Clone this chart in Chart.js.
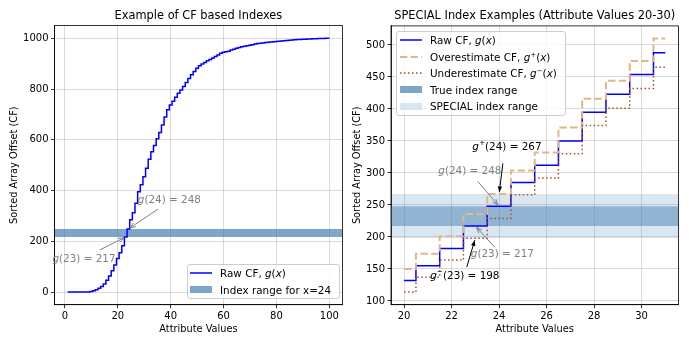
<!DOCTYPE html>
<html lang="en">
<head>
<meta charset="UTF-8">
<title>CF based Indexes</title>
<style>
  body { margin: 0; background: #fff; font-family: "DejaVu Sans", sans-serif; }
  .wrap { position: relative; width: 689px; height: 345px; }
  canvas { position: absolute; top: 0; }
  #leftChart { left: 0; }
  #rightChart { left: 345px; }
  .legend {
    position: absolute;
    background: rgba(255, 255, 255, 0.8);
    border: 1px solid #ccc;
    border-radius: 3px;
    font-size: 10.4px;
    color: #000;
  }
  .legend .row { display: flex; align-items: center; height: 16.5px; white-space: nowrap; }
  .legend .sw { width: 22px; height: 10px; margin-right: 8px; display: flex; align-items: center; }
  .legend .patch { width: 22px; height: 7px; }
  .legend sup { font-size: 7px; line-height: 0; }
  #leftLegend { left: 187px; top: 264px; width: 149px; padding-left: 2px; }
  #rightLegend { left: 396px; top: 31px; width: 165px; padding-left: 3px; }
</style>
</head>
<body>
<div class="wrap">
  <canvas id="leftChart" width="345" height="345"></canvas>
  <canvas id="rightChart" width="344" height="345"></canvas>

  <div class="legend" id="leftLegend">
    <div class="row"><span class="sw"><svg width="22" height="10"><line x1="0" y1="5" x2="22" y2="5" stroke="#0000ff" stroke-width="1.5"/></svg></span><span>Raw CF, <i>g</i>(<i>x</i>)</span></div>
    <div class="row"><span class="sw"><span class="patch" style="background: rgba(70,130,180,0.7)"></span></span><span>Index range for x=24</span></div>
  </div>

  <div class="legend" id="rightLegend">
    <div class="row"><span class="sw"><svg width="22" height="10"><line x1="0" y1="5" x2="22" y2="5" stroke="#0000ff" stroke-width="1.5"/></svg></span><span>Raw CF, <i>g</i>(<i>x</i>)</span></div>
    <div class="row"><span class="sw"><svg width="22" height="10"><line x1="0" y1="5" x2="22" y2="5" stroke="#deb887" stroke-width="2" stroke-dasharray="7.4 3.2"/></svg></span><span>Overestimate CF, <i>g</i><sup>+</sup>(<i>x</i>)</span></div>
    <div class="row"><span class="sw"><svg width="22" height="10"><line x1="0" y1="5" x2="22" y2="5" stroke="#a0522d" stroke-width="1.5" stroke-dasharray="1.5 2.5"/></svg></span><span>Underestimate CF, <i>g</i><sup>−</sup>(<i>x</i>)</span></div>
    <div class="row"><span class="sw"><span class="patch" style="background: rgba(70,130,180,0.7)"></span></span><span>True index range</span></div>
    <div class="row"><span class="sw"><span class="patch" style="background: rgba(70,130,180,0.2)"></span></span><span>SPECIAL index range</span></div>
  </div>
</div>

<script src="https://cdn.jsdelivr.net/npm/chart.js"></script>
<script>
// attribute values 1..100 and the raw cumulative frequency g(x)
const attrValues = [
  1, 2, 3, 4, 5, 6, 7, 8, 9, 10, 11, 12, 13, 14, 15, 16, 17, 18, 19, 20,
  21, 22, 23, 24, 25, 26, 27, 28, 29, 30, 31, 32, 33, 34, 35, 36, 37, 38, 39, 40,
  41, 42, 43, 44, 45, 46, 47, 48, 49, 50, 51, 52, 53, 54, 55, 56, 57, 58, 59, 60,
  61, 62, 63, 64, 65, 66, 67, 68, 69, 70, 71, 72, 73, 74, 75, 76, 77, 78, 79, 80,
  81, 82, 83, 84, 85, 86, 87, 88, 89, 90, 91, 92, 93, 94, 95, 96, 97, 98, 99, 100
];
const rawCF = [
  0, 0, 0, 0, 0, 0, 0, 0, 0, 2, 5, 9, 15, 22, 32, 46, 63, 84, 106, 132,
  155, 182, 217, 248, 285, 312, 350, 395, 423, 454, 488, 523, 553, 577, 604, 629, 658, 690, 718, 737,
  752, 768, 783, 796, 810, 826, 842, 856, 869, 882, 892, 899, 905, 911, 916, 922, 928, 934, 941, 945,
  947, 949, 954, 957, 961, 964, 967, 969, 971, 973, 975, 977, 979, 980, 981, 983, 984, 985, 986, 987,
  988, 989, 990, 991, 992, 993, 994, 995, 995, 996, 996, 997, 997, 998, 998, 999, 999, 999, 1000, 1000
];

// zoomed view, attribute values 20..31
const zoomX = [20, 21, 22, 23, 24, 25, 26, 27, 28, 29, 30, 31];
const zoomRaw = [132, 155, 182, 217, 248, 285, 312, 350, 395, 423, 454, 488];
const zoomOver = [150, 174, 201, 236, 267, 304, 332, 371, 416, 444, 475, 510];
const zoomUnder = [114, 137, 164, 198, 229, 266, 292, 330, 374, 401, 432, 465];

// index ranges
const trueRange = [217, 248];
const specialRange = [198, 267];

// tick labels
const leftXTicks = [0, 20, 40, 60, 80, 100];
const leftYTicks = [0, 200, 400, 600, 800, 1000];
const rightXTicks = [20, 22, 24, 26, 28, 30];
const rightYTicks = [100, 150, 200, 250, 300, 350, 400, 450, 500];

const FONT = 'DejaVu Sans';
const pts = (xs, ys) => xs.map((x, i) => ({ x: x, y: ys[i] }));

function drawArrow(ctx, x0, y0, x1, y1, color, filled) {
  const ang = Math.atan2(y1 - y0, x1 - x0);
  // shrink a little at the head like matplotlib does
  x1 -= 2 * Math.cos(ang); y1 -= 2 * Math.sin(ang);
  ctx.strokeStyle = color; ctx.fillStyle = color; ctx.lineWidth = 1;
  ctx.beginPath(); ctx.moveTo(x0, y0); ctx.lineTo(x1, y1); ctx.stroke();
  const L = 6, w = 0.38;
  ctx.beginPath();
  ctx.moveTo(x1 - L * Math.cos(ang - w), y1 - L * Math.sin(ang - w));
  ctx.lineTo(x1, y1);
  ctx.lineTo(x1 - L * Math.cos(ang + w), y1 - L * Math.sin(ang + w));
  if (filled) { ctx.closePath(); ctx.fill(); } else { ctx.stroke(); }
}

function drawMath(ctx, parts, x, y, color) {
  const fonts = {
    n: '10.4px "' + FONT + '"',
    i: 'italic 10.4px "' + FONT + '"',
    s: '7.3px "' + FONT + '"'
  };
  let w = 0;
  parts.forEach(p => { ctx.font = fonts[p[1]]; w += ctx.measureText(p[0]).width; });
  let cx = x - w / 2;
  ctx.fillStyle = color; ctx.textAlign = 'left'; ctx.textBaseline = 'middle';
  parts.forEach(p => {
    ctx.font = fonts[p[1]];
    ctx.fillText(p[0], cx, p[1] === 's' ? y - 4 : y);
    cx += ctx.measureText(p[0]).width;
  });
}

// frame, title and annotations
const decorations = {
  id: 'decorations',
  afterDatasetsDraw(chart, args, opts) {
    const { ctx, chartArea: a, scales: { x, y } } = chart;
    ctx.save();
    ctx.strokeStyle = '#000'; ctx.lineWidth = 0.8;
    ctx.strokeRect(a.left, a.top, a.right - a.left, a.bottom - a.top);

    ctx.fillStyle = '#000';
    ctx.font = '11.4px "' + FONT + '"';
    ctx.textAlign = 'center'; ctx.textBaseline = 'middle';
    ctx.fillText(opts.title, (a.left + a.right) / 2, a.top - 10);

    (opts.notes || []).forEach(n => {
      drawArrow(ctx, x.getPixelForValue(n.from[0]), y.getPixelForValue(n.from[1]),
        x.getPixelForValue(n.to[0]), y.getPixelForValue(n.to[1]), n.color, n.filled);
      drawMath(ctx, n.parts, x.getPixelForValue(n.at[0]), y.getPixelForValue(n.at[1]), n.color);
    });
    ctx.restore();
  }
};

function axis(min, max, ticks, title, fit, titlePad) {
  return {
    type: 'linear', min: min, max: max,
    afterBuildTicks: ax => { ax.ticks = ticks.map(v => ({ value: v })); },
    afterFit: fit,
    grid: { color: 'rgba(176,176,176,0.6)', lineWidth: 0.8, tickColor: '#000', tickLength: 3.5, tickWidth: 0.8 },
    border: { color: '#000', width: 0.8 },
    ticks: { color: '#000', font: { family: FONT, size: 10 }, padding: 2.5, maxRotation: 0, autoSkip: false,
             callback: v => String(v) },
    title: { display: true, text: title, color: '#000', font: { family: FONT, size: 9.8 }, padding: titlePad }
  };
}

function band(x0, x1, range, color, order) {
  return {
    data: [{ x: x0, y: range[1] }, { x: x1, y: range[1] }],
    fill: { value: range[0] }, backgroundColor: color,
    borderColor: 'transparent', borderWidth: 0, pointRadius: 0, order: order
  };
}

const baseOptions = {
  responsive: false, animation: false,
  plugins: { legend: { display: false }, tooltip: { enabled: false } }
};

// left chart: full CF
new Chart(document.getElementById('leftChart'), {
  type: 'line',
  data: {
    datasets: [
      { data: pts(attrValues, rawCF), stepped: 'middle', borderColor: '#0000ff', borderWidth: 1.5, pointRadius: 0, fill: false, order: 1 },
      band(-3.95, 104.95, trueRange, 'rgba(70,130,180,0.7)', 5)
    ]
  },
  options: Object.assign({}, baseOptions, {
    layout: { padding: { left: 0, right: 2.6, top: 25.6, bottom: 0 } },
    scales: {
      x: axis(-3.95, 104.95, leftXTicks, 'Attribute Values', ax => { ax.height = 40.3; }, { top: 0, bottom: 10 }),
      y: axis(-50, 1050, leftYTicks, 'Sorted Array Offset (CF)', ax => { ax.width = 54.5; }, { top: 9, bottom: 0 })
    },
    plugins: Object.assign({}, baseOptions.plugins, {
      decorations: {
        title: 'Example of CF based Indexes',
        notes: [
          { parts: [['g', 'i'], ['(24) = 248', 'n']], at: [39.5, 363], from: [35.2, 327], to: [24, 248], color: '#808080' },
          { parts: [['g', 'i'], ['(23) = 217', 'n']], at: [7.2, 130], from: [13.2, 166], to: [23, 217], color: '#808080' }
        ]
      }
    })
  }),
  plugins: [decorations]
});

// right chart: zoom on attribute values 20-30
new Chart(document.getElementById('rightChart'), {
  type: 'line',
  data: {
    datasets: [
      { data: pts(zoomX, zoomUnder), stepped: 'middle', borderColor: '#a0522d', borderWidth: 1.5, borderDash: [1.5, 2.5], pointRadius: 0, fill: false, order: 1 },
      { data: pts(zoomX, zoomOver), stepped: 'middle', borderColor: '#deb887', borderWidth: 2, borderDash: [7.4, 3.2], pointRadius: 0, fill: false, order: 2 },
      { data: pts(zoomX, zoomRaw), stepped: 'middle', borderColor: '#0000ff', borderWidth: 1.5, pointRadius: 0, fill: false, order: 3 },
      band(19.45, 31.55, trueRange, 'rgba(70,130,180,0.5)', 6),
      band(19.45, 31.55, specialRange, 'rgba(70,130,180,0.2)', 7)
    ]
  },
  options: Object.assign({}, baseOptions, {
    layout: { padding: { left: 0, right: 10.6, top: 25.9, bottom: 0 } },
    scales: {
      x: axis(19.45, 31.55, rightXTicks, 'Attribute Values', ax => { ax.height = 40.3; }, { top: 0, bottom: 10 }),
      y: axis(94.2, 529.8, rightYTicks, 'Sorted Array Offset (CF)', ax => { ax.width = 46; }, { top: 7, bottom: 0 })
    },
    plugins: Object.assign({}, baseOptions.plugins, {
      decorations: {
        title: 'SPECIAL Index Examples (Attribute Values 20-30)',
        notes: [
          { parts: [['g', 'i'], ['+', 's'], ['(24) = 267', 'n']], at: [24.33, 340], from: [24.16, 315], to: [24, 267], color: '#000', filled: true },
          { parts: [['g', 'i'], ['(24) = 248', 'n']], at: [22.77, 303], from: [23.1, 287], to: [24, 248], color: '#808080' },
          { parts: [['g', 'i'], ['(23) = 217', 'n']], at: [24.14, 173], from: [23.82, 184], to: [23, 217], color: '#808080' },
          { parts: [['g', 'i'], ['−', 's'], ['(23) = 198', 'n']], at: [22.56, 139], from: [22.64, 153], to: [23, 198], color: '#000', filled: true }
        ]
      }
    })
  }),
  plugins: [decorations]
});
</script>
</body>
</html>
